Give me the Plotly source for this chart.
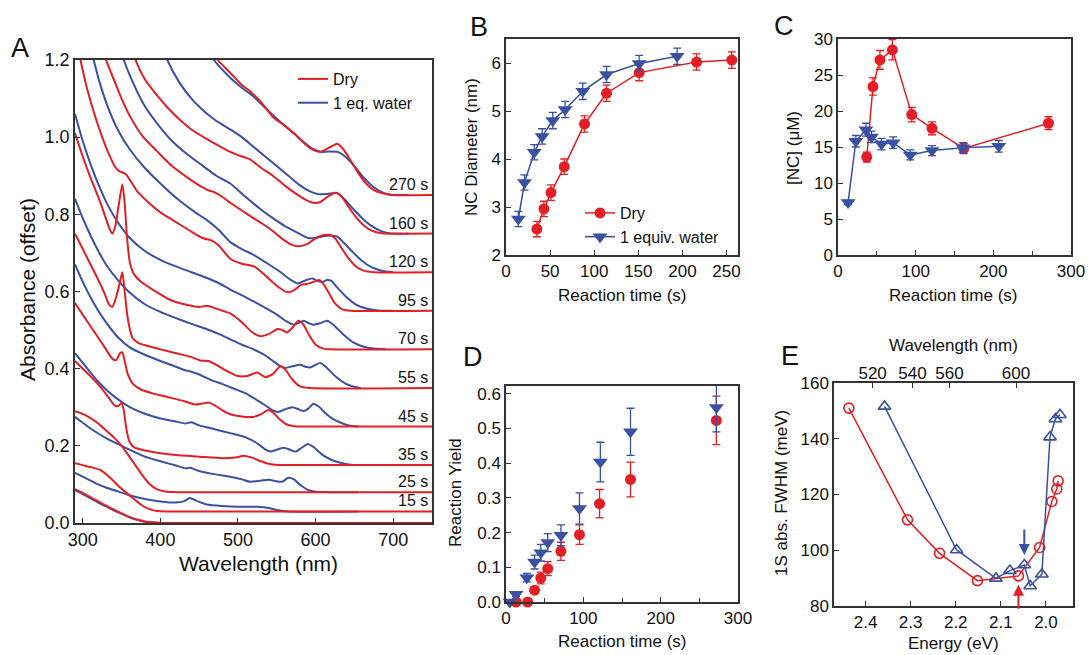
import plotly.graph_objects as go

W, H = 1088, 655
RED = '#e31e24'
BLUE = '#3a50a2'
AX = '#333333'
FONT = 'Liberation Sans, Arial, sans-serif'

# ---------------- Panel A: spectra as (wavelength nm, absorbance + offset) ----------------
DRY_270 = [(455, 1.26), (474, 1.2), (490, 1.167), (505, 1.135), (516, 1.118), (530, 1.09), (546, 1.05),
           (560, 1.03), (572, 1.01), (585, 0.985), (596, 0.968), (606, 0.962), (617, 0.972), (628, 0.983),
           (636, 0.968), (645, 0.94), (654, 0.91), (665, 0.88), (675, 0.863), (684, 0.856), (700, 0.85), (750, 0.85)]
WATER_270 = [(450, 1.26), (469, 1.2), (490, 1.154), (505, 1.128), (520, 1.105), (533, 1.08), (546, 1.055),
             (560, 1.03), (572, 1.01), (585, 0.987), (596, 0.97), (606, 0.962), (617, 0.963), (628, 0.962),
             (638, 0.95), (650, 0.925), (662, 0.895), (675, 0.87), (686, 0.857), (696, 0.851), (720, 0.85)]
DRY_160 = [(352, 1.3), (368, 1.2), (380, 1.15), (395, 1.11), (410, 1.075), (425, 1.045), (440, 1.02),
           (460, 0.995), (475, 0.978), (490, 0.962), (505, 0.95), (515, 0.943), (530, 0.92), (545, 0.9),
           (560, 0.875), (575, 0.853), (588, 0.837), (597, 0.83), (606, 0.832), (617, 0.848), (626, 0.856),
           (634, 0.845), (643, 0.818), (653, 0.79), (663, 0.77), (673, 0.757), (685, 0.751), (750, 0.75)]
WATER_160 = [(392, 1.3), (409, 1.2), (425, 1.14), (440, 1.1), (455, 1.07), (470, 1.045), (490, 1.02),
             (505, 1.0), (520, 0.975), (535, 0.95), (550, 0.925), (565, 0.9), (580, 0.875), (592, 0.86),
             (604, 0.852), (615, 0.853), (627, 0.855), (637, 0.84), (648, 0.815), (660, 0.79), (672, 0.77),
             (684, 0.757), (695, 0.751), (720, 0.75)]
DRY_120 = [(315, 1.3), (330, 1.2), (340, 1.15), (350, 1.1), (362, 1.05), (378, 1.0), (395, 0.965),
           (415, 0.925), (435, 0.895), (450, 0.875), (462, 0.862), (470, 0.857), (480, 0.845), (490, 0.83),
           (505, 0.81), (520, 0.79), (532, 0.775), (546, 0.755), (558, 0.735), (568, 0.722), (577, 0.717),
           (588, 0.722), (598, 0.735), (608, 0.745), (617, 0.747), (625, 0.738), (633, 0.714), (642, 0.687),
           (652, 0.665), (662, 0.654), (675, 0.65), (750, 0.65)]
WATER_120 = [(340, 1.3), (353, 1.2), (365, 1.14), (380, 1.08), (398, 1.03), (415, 0.99), (435, 0.955),
             (455, 0.925), (472, 0.9), (490, 0.88), (510, 0.845), (530, 0.812), (545, 0.79), (560, 0.77),
             (577, 0.752), (591, 0.738), (600, 0.739), (610, 0.743), (620, 0.745), (628, 0.742), (636, 0.727),
             (648, 0.702), (660, 0.679), (672, 0.663), (685, 0.654), (700, 0.65)]
DRY_95 = [(280, 1.35), (297, 1.2), (305, 1.13), (315, 1.06), (325, 1.0), (335, 0.95), (342, 0.922),
          (347, 0.912), (355, 0.905), (362, 0.885), (370, 0.86), (385, 0.83), (400, 0.805), (420, 0.78),
          (440, 0.755), (455, 0.738), (465, 0.733), (475, 0.72), (490, 0.685), (505, 0.672), (515, 0.668),
          (522, 0.664), (535, 0.642), (550, 0.615), (564, 0.598), (572, 0.603), (581, 0.617), (592, 0.621),
          (600, 0.627), (605, 0.63), (610, 0.62), (617, 0.597), (625, 0.569), (635, 0.553), (645, 0.55), (750, 0.55)]
WATER_95 = [(300, 1.3), (314, 1.2), (322, 1.14), (332, 1.08), (345, 1.02), (360, 0.97), (380, 0.92),
            (400, 0.88), (425, 0.835), (445, 0.805), (460, 0.785), (475, 0.76), (490, 0.728), (505, 0.71),
            (520, 0.695), (540, 0.67), (555, 0.65), (568, 0.63), (577, 0.621), (586, 0.628), (596, 0.634),
            (603, 0.627), (609, 0.625), (615, 0.63), (620, 0.628), (628, 0.61), (640, 0.585), (652, 0.566),
            (665, 0.556), (680, 0.551), (700, 0.55)]
DRY_70 = [(290, 1.01), (300, 0.95), (310, 0.895), (320, 0.845), (328, 0.8), (334, 0.765), (338, 0.75),
          (342, 0.77), (346, 0.82), (351, 0.877), (354, 0.83), (357, 0.74), (361, 0.672), (366, 0.645),
          (375, 0.625), (390, 0.605), (413, 0.578), (435, 0.565), (450, 0.56), (460, 0.563), (470, 0.557),
          (480, 0.55), (490, 0.543), (505, 0.52), (518, 0.495), (529, 0.484), (540, 0.49), (551, 0.503),
          (557, 0.5), (563, 0.494), (570, 0.506), (578, 0.524), (584, 0.515), (592, 0.486), (600, 0.462),
          (610, 0.452), (620, 0.45), (750, 0.45)]
WATER_70 = [(290, 1.06), (300, 0.99), (310, 0.93), (320, 0.878), (330, 0.833), (345, 0.78), (360, 0.74),
            (380, 0.705), (400, 0.682), (420, 0.665), (440, 0.65), (460, 0.635), (475, 0.622), (490, 0.605),
            (510, 0.585), (533, 0.56), (550, 0.54), (562, 0.523), (572, 0.514), (580, 0.52), (585, 0.524),
            (591, 0.518), (597, 0.514), (606, 0.518), (615, 0.524), (622, 0.515), (635, 0.49), (648, 0.469),
            (662, 0.457), (675, 0.452), (690, 0.45)]
DRY_55 = [(290, 0.75), (300, 0.71), (310, 0.67), (320, 0.63), (328, 0.595), (334, 0.566), (338, 0.56),
          (343, 0.585), (348, 0.625), (351, 0.65), (354, 0.6), (358, 0.53), (364, 0.48), (372, 0.466),
          (385, 0.458), (400, 0.45), (420, 0.44), (440, 0.43), (452, 0.421), (462, 0.42), (472, 0.41),
          (485, 0.395), (500, 0.381), (512, 0.381), (525, 0.39), (535, 0.378), (545, 0.386), (555, 0.407),
          (562, 0.395), (570, 0.372), (580, 0.354), (592, 0.35), (750, 0.35)]
WATER_55 = [(290, 0.84), (300, 0.79), (310, 0.745), (320, 0.705), (330, 0.67), (345, 0.63), (360, 0.598),
            (380, 0.567), (400, 0.547), (420, 0.531), (440, 0.516), (460, 0.502), (475, 0.49), (490, 0.476),
            (505, 0.462), (520, 0.45), (533, 0.437), (545, 0.42), (555, 0.406), (561, 0.402), (570, 0.406),
            (580, 0.41), (587, 0.405), (593, 0.403), (600, 0.41), (606, 0.415), (613, 0.405), (625, 0.381),
            (638, 0.362), (648, 0.354), (658, 0.35)]
DRY_45 = [(290, 0.57), (300, 0.54), (310, 0.51), (320, 0.48), (330, 0.45), (338, 0.426), (343, 0.422),
          (348, 0.44), (351, 0.442), (354, 0.42), (358, 0.386), (365, 0.36), (375, 0.346), (390, 0.336),
          (410, 0.326), (430, 0.316), (445, 0.307), (455, 0.31), (462, 0.312), (470, 0.305), (480, 0.292),
          (490, 0.282), (505, 0.276), (520, 0.275), (530, 0.282), (539, 0.293), (546, 0.285), (554, 0.268),
          (562, 0.256), (572, 0.251), (585, 0.25), (750, 0.25)]
WATER_45 = [(290, 0.67), (300, 0.625), (310, 0.585), (320, 0.55), (330, 0.52), (345, 0.482), (360, 0.456),
            (380, 0.436), (400, 0.42), (420, 0.405), (432, 0.396), (440, 0.392), (450, 0.385), (465, 0.371),
            (480, 0.36), (495, 0.348), (510, 0.336), (525, 0.318), (538, 0.301), (545, 0.292), (552, 0.288),
            (560, 0.294), (570, 0.3), (578, 0.295), (585, 0.29), (591, 0.297), (597, 0.309), (604, 0.302),
            (612, 0.286), (622, 0.27), (635, 0.258), (645, 0.252), (655, 0.25)]
DRY_35 = [(290, 0.42), (300, 0.4), (310, 0.38), (323, 0.352), (333, 0.326), (341, 0.305), (346, 0.303),
          (350, 0.312), (353, 0.29), (356, 0.246), (360, 0.212), (366, 0.196), (380, 0.188), (400, 0.181),
          (420, 0.176), (450, 0.172), (480, 0.168), (497, 0.17), (507, 0.174), (517, 0.17), (527, 0.162),
          (537, 0.155), (548, 0.151), (560, 0.15), (750, 0.15)]
WATER_35 = [(290, 0.44), (300, 0.415), (310, 0.39), (320, 0.366), (330, 0.346), (345, 0.321), (360, 0.301),
            (380, 0.283), (400, 0.271), (420, 0.263), (432, 0.258), (440, 0.261), (450, 0.253), (470, 0.243),
            (490, 0.233), (510, 0.222), (525, 0.206), (535, 0.191), (542, 0.185), (550, 0.19), (559, 0.195),
            (567, 0.19), (574, 0.185), (582, 0.195), (590, 0.205), (598, 0.196), (608, 0.178), (620, 0.164),
            (632, 0.156), (645, 0.151), (655, 0.15)]
DRY_25 = [(290, 0.29), (300, 0.283), (310, 0.272), (320, 0.258), (330, 0.24), (340, 0.222), (350, 0.2),
          (358, 0.178), (366, 0.155), (376, 0.126), (386, 0.101), (396, 0.087), (408, 0.081), (420, 0.08), (750, 0.08)]
WATER_25 = [(290, 0.275), (300, 0.26), (310, 0.245), (320, 0.232), (330, 0.22), (345, 0.205), (360, 0.19),
            (380, 0.172), (400, 0.16), (420, 0.149), (432, 0.142), (439, 0.143), (448, 0.136), (465, 0.128),
            (490, 0.12), (505, 0.113), (516, 0.107), (530, 0.11), (540, 0.112), (550, 0.108), (557, 0.107),
            (565, 0.117), (572, 0.113), (580, 0.099), (590, 0.086), (600, 0.081), (615, 0.08), (655, 0.08)]
DRY_15 = [(290, 0.155), (300, 0.15), (310, 0.145), (323, 0.137), (335, 0.118), (345, 0.098), (355, 0.08),
          (366, 0.062), (376, 0.046), (386, 0.036), (396, 0.031), (410, 0.03), (750, 0.03)]
WATER_15 = [(290, 0.13), (300, 0.12), (310, 0.11), (320, 0.1), (330, 0.092), (345, 0.082), (360, 0.072),
            (380, 0.062), (400, 0.056), (420, 0.053), (430, 0.056), (438, 0.065), (446, 0.058), (460, 0.048),
            (480, 0.044), (500, 0.042), (525, 0.042), (540, 0.039), (552, 0.033), (565, 0.03), (655, 0.03)]
DRY_0 = [(290, 0.088), (300, 0.078), (310, 0.067), (320, 0.056), (330, 0.045), (340, 0.035), (350, 0.025),
         (360, 0.016), (370, 0.009), (380, 0.004), (392, 0.001), (402, 0.0), (420, 0.0), (750, 0.0)]
WATER_0 = [(290, 0.085), (300, 0.075), (310, 0.064), (320, 0.053), (330, 0.043), (340, 0.033), (350, 0.024),
           (360, 0.015), (370, 0.008), (380, 0.003), (392, 0.001), (402, 0.0), (420, 0.0), (655, 0.0)]

DRY_SPECTRA = [DRY_270, DRY_160, DRY_120, DRY_95, DRY_70, DRY_55, DRY_45, DRY_35, DRY_25, DRY_15, DRY_0]
WATER_SPECTRA = [WATER_270, WATER_160, WATER_120, WATER_95, WATER_70, WATER_55, WATER_45, WATER_35,
                 WATER_25, WATER_15, WATER_0]
SPEC_LABELS = ['270 s', '160 s', '120 s', '95 s', '70 s', '55 s', '45 s', '35 s', '25 s', '15 s']
SPEC_OFFSETS = [0.85, 0.75, 0.65, 0.55, 0.45, 0.35, 0.25, 0.15, 0.08, 0.03]

# ---------------- Panel B: NC diameter ----------------
B_DRY_T = [35, 43, 51, 66, 89, 114, 151, 216, 256]
B_DRY_D = [2.54, 2.96, 3.30, 3.84, 4.73, 5.37, 5.80, 6.02, 6.06]
B_DRY_E = [0.16, 0.16, 0.16, 0.16, 0.17, 0.17, 0.17, 0.17, 0.17]
B_WAT_T = [14, 21, 32, 41, 53, 67, 87, 114, 151, 194]
B_WAT_D = [2.75, 3.51, 4.14, 4.47, 4.80, 5.03, 5.41, 5.76, 5.99, 6.14]
B_WAT_E = [0.16, 0.16, 0.16, 0.16, 0.17, 0.17, 0.17, 0.17, 0.17, 0.17]

# ---------------- Panel C: [NC] ----------------
C_DRY_T = [37, 45, 54, 70, 95, 121, 162, 271]
C_DRY_C = [13.6, 23.4, 27.1, 28.5, 19.5, 17.6, 14.8, 18.3]
C_DRY_E = [0.7, 1.2, 1.3, 1.4, 1.0, 0.9, 0.7, 0.9]
C_WAT_T = [13, 23, 36, 43, 56, 71, 93, 121, 161, 207]
C_WAT_C = [7.3, 15.8, 17.4, 16.4, 15.4, 15.6, 13.9, 14.5, 14.9, 15.1]
C_WAT_E = [0.3, 0.8, 0.9, 0.8, 0.8, 0.8, 0.7, 0.7, 0.7, 0.8]

# ---------------- Panel D: reaction yield ----------------
D_DRY_T = [13, 28, 37, 45, 54, 71, 95, 121, 161, 272]
D_DRY_Y = [0.0, 0.0, 0.034, 0.069, 0.096, 0.146, 0.194, 0.283, 0.353, 0.523]
D_DRY_E = [0.003, 0.003, 0.008, 0.017, 0.02, 0.026, 0.028, 0.041, 0.05, 0.07]
D_WAT_T = [5, 13, 27, 37, 45, 54, 71, 95, 122, 161, 272]
D_WAT_Y = [0.0, 0.022, 0.07, 0.115, 0.142, 0.171, 0.192, 0.269, 0.403, 0.49, 0.56]
D_WAT_E = [0.003, 0.006, 0.012, 0.02, 0.024, 0.026, 0.03, 0.045, 0.057, 0.068, 0.07]

# ---------------- Panel E: FWHM vs energy ----------------
E_DRY_EV = [2.437, 2.307, 2.236, 2.152, 2.061, 2.014, 1.987, 1.976, 1.973]
E_DRY_FW = [151.0, 110.9, 98.9, 89.1, 90.8, 101.0, 117.5, 122.0, 124.9]
E_WAT_EV = [2.358, 2.198, 2.111, 2.080, 2.048, 2.035, 2.009, 1.991, 1.979, 1.969]
E_WAT_FW = [151.6, 100.1, 89.9, 92.7, 94.7, 87.2, 91.4, 140.6, 147.1, 148.6]
E_WL_TICKS = [520, 540, 560, 600]
HC = 1239.84  # eV*nm


def px(x):
    return x / W


def py(y):
    return 1 - y / H


fig = go.Figure()

# Panel A traces (water drawn first, dry on top)
for i, spec in enumerate(WATER_SPECTRA):
    fig.add_trace(go.Scatter(x=[p[0] for p in spec], y=[p[1] for p in spec], mode='lines',
                             line=dict(color=BLUE, width=2, shape='spline', smoothing=0.6),
                             name='1 eq. water', legend='legend', legendrank=2,
                             showlegend=(i == 0), xaxis='x', yaxis='y', hoverinfo='skip'))
for i, spec in enumerate(DRY_SPECTRA):
    fig.add_trace(go.Scatter(x=[p[0] for p in spec], y=[p[1] for p in spec], mode='lines',
                             line=dict(color=RED, width=2, shape='spline', smoothing=0.6),
                             name='Dry', legend='legend', legendrank=1,
                             showlegend=(i == 0), xaxis='x', yaxis='y', hoverinfo='skip'))

# Panel B
fig.add_trace(go.Scatter(x=B_DRY_T, y=B_DRY_D, mode='lines+markers', name='Dry',
                         line=dict(color=RED, width=1.5), marker=dict(symbol='circle', size=11, color=RED),
                         error_y=dict(type='data', array=B_DRY_E, color=RED, thickness=1.3, width=4),
                         legend='legend2', legendrank=1, xaxis='x2', yaxis='y2'))
fig.add_trace(go.Scatter(x=B_WAT_T, y=B_WAT_D, mode='lines+markers', name='1 equiv. water',
                         line=dict(color=BLUE, width=1.5), marker=dict(symbol='triangle-down', size=13, color=BLUE),
                         error_y=dict(type='data', array=B_WAT_E, color=BLUE, thickness=1.3, width=4),
                         legend='legend2', legendrank=2, xaxis='x2', yaxis='y2'))

# Panel C
fig.add_trace(go.Scatter(x=C_DRY_T, y=C_DRY_C, mode='lines+markers', showlegend=False,
                         line=dict(color=RED, width=1.5), marker=dict(symbol='circle', size=11, color=RED),
                         error_y=dict(type='data', array=C_DRY_E, color=RED, thickness=1.3, width=4),
                         xaxis='x3', yaxis='y3'))
fig.add_trace(go.Scatter(x=C_WAT_T, y=C_WAT_C, mode='lines+markers', showlegend=False,
                         line=dict(color=BLUE, width=1.5), marker=dict(symbol='triangle-down', size=13, color=BLUE),
                         error_y=dict(type='data', array=C_WAT_E, color=BLUE, thickness=1.3, width=4),
                         xaxis='x3', yaxis='y3'))

# Panel D
fig.add_trace(go.Scatter(x=D_DRY_T, y=D_DRY_Y, mode='markers', showlegend=False,
                         marker=dict(symbol='circle', size=11, color=RED),
                         error_y=dict(type='data', array=D_DRY_E, color=RED, thickness=1.3, width=4),
                         xaxis='x4', yaxis='y4', cliponaxis=False))
fig.add_trace(go.Scatter(x=D_WAT_T, y=D_WAT_Y, mode='markers', showlegend=False,
                         marker=dict(symbol='triangle-down', size=13, color=BLUE),
                         error_y=dict(type='data', array=D_WAT_E, color=BLUE, thickness=1.3, width=4),
                         xaxis='x4', yaxis='y4', cliponaxis=False))

# Panel E
fig.add_trace(go.Scatter(x=E_DRY_EV, y=E_DRY_FW, mode='lines+markers', showlegend=False,
                         line=dict(color=RED, width=1.5),
                         marker=dict(symbol='circle-open', size=10, color=RED, line=dict(width=1.6)),
                         xaxis='x5', yaxis='y5'))
fig.add_trace(go.Scatter(x=E_WAT_EV, y=E_WAT_FW, mode='lines+markers', showlegend=False,
                         line=dict(color=BLUE, width=1.5),
                         marker=dict(symbol='triangle-up-open', size=11, color=BLUE, line=dict(width=1.6)),
                         xaxis='x5', yaxis='y5'))
fig.add_trace(go.Scatter(x=[2.2], y=[None], mode='markers', showlegend=False, xaxis='x6', yaxis='y5',
                         hoverinfo='skip'))

axis_common = dict(showline=True, linecolor=AX, linewidth=1.5, mirror=True, ticks='inside',
                   ticklen=5, tickwidth=1.3, tickcolor=AX, showgrid=False, zeroline=False,
                   automargin=False,
                   tickfont=dict(size=17, color='#111', family=FONT))

A_X0, A_X1, A_Y0, A_Y1 = 75, 432, 60, 523
B_X0, B_X1, B_Y0, B_Y1 = 506, 738, 39, 255
C_X0, C_X1 = 838, 1071
D_Y0, D_Y1 = 386, 602
E_X0, E_X1, E_Y0, E_Y1 = 834, 1073, 383, 606

layout = dict(
    width=W, height=H, margin=dict(l=0, r=0, t=0, b=0, pad=0, autoexpand=False),
    paper_bgcolor='white', plot_bgcolor='white',
    font=dict(family=FONT, color='#111'),
    xaxis=dict(axis_common, domain=[px(A_X0), px(A_X1)], anchor='y', range=[290, 750],
               tickvals=[300, 400, 500, 600, 700], tickfont=dict(size=18, family=FONT, color='#111')),
    yaxis=dict(axis_common, domain=[py(A_Y1), py(A_Y0)], anchor='x', range=[0, 1.2],
               dtick=0.2, tickformat='.1f', tickfont=dict(size=18, family=FONT, color='#111')),
    xaxis2=dict(axis_common, domain=[px(B_X0), px(B_X1)], anchor='y2', range=[0, 263], dtick=50),
    yaxis2=dict(axis_common, domain=[py(B_Y1), py(B_Y0)], anchor='x2', range=[2, 6.5], dtick=1),
    xaxis3=dict(axis_common, domain=[px(C_X0), px(C_X1)], anchor='y3', range=[0, 300], dtick=100,
                minor=dict(dtick=50, ticks='inside', ticklen=4, tickcolor=AX)),
    yaxis3=dict(axis_common, domain=[py(B_Y1), py(B_Y0)], anchor='x3', range=[0, 30], dtick=5),
    xaxis4=dict(axis_common, domain=[px(B_X0), px(B_X1)], anchor='y4', range=[0, 300], dtick=100,
                minor=dict(dtick=50, ticks='inside', ticklen=4, tickcolor=AX)),
    yaxis4=dict(axis_common, domain=[py(D_Y1), py(D_Y0)], anchor='x4', range=[0, 0.622], dtick=0.1,
                tickformat='.1f'),
    xaxis5=dict(axis_common, domain=[px(E_X0), px(E_X1)], anchor='y5', range=[2.47, 1.94], dtick=0.1,
                tickformat='.1f'),
    yaxis5=dict(axis_common, domain=[py(E_Y1), py(E_Y0)], anchor='x5', range=[80, 160], dtick=20),
    xaxis6=dict(axis_common, overlaying='x5', side='top', anchor='y5', range=[2.47, 1.94],
                tickvals=[HC / w for w in E_WL_TICKS], ticktext=[str(w) for w in E_WL_TICKS],
                showline=False, mirror=False),
    legend=dict(x=px(293), y=py(62), xanchor='left', yanchor='top', bgcolor='rgba(0,0,0,0)',
                font=dict(size=16, family=FONT, color='#111'), tracegroupgap=0, itemwidth=30,
                traceorder='normal'),
    legend2=dict(x=px(580), y=py(196), xanchor='left', yanchor='top', bgcolor='rgba(0,0,0,0)',
                 font=dict(size=16, family=FONT, color='#111'), tracegroupgap=0, itemwidth=30,
                 traceorder='normal'),
    showlegend=True,
)
fig.update_layout(layout)

ann = []


def text(x, y, s, size=17, angle=0, xanchor='center', yanchor='middle'):
    ann.append(dict(x=px(x), y=py(y), xref='paper', yref='paper', text=s, showarrow=False,
                    font=dict(size=size, family=FONT, color='#111'), textangle=angle,
                    xanchor=xanchor, yanchor=yanchor))


# Panel letters
text(20, 48, 'A', size=27)
text(479, 27, 'B', size=27)
text(784, 26, 'C', size=27)
text(473, 357, 'D', size=27)
text(790, 356, 'E', size=27)

# Axis titles
text(27, 290, 'Absorbance (offset)', size=21, angle=-90)
text(258, 563, 'Wavelength (nm)', size=21)
text(472, 147, 'NC Diameter (nm)', size=17, angle=-90)
text(622, 295, 'Reaction time (s)', size=17)
text(793, 148, '[NC] (μM)', size=17, angle=-90)
text(953, 295, 'Reaction time (s)', size=17)
text(455, 493, 'Reaction Yield', size=17, angle=-90)
text(622, 641, 'Reaction time (s)', size=17)
text(781, 493, '1S abs. FWHM (meV)', size=17, angle=-90)
text(953, 643, 'Energy (eV)', size=17)
text(953, 345, 'Wavelength (nm)', size=17)

# Time labels on spectra
for lab, off in zip(SPEC_LABELS, SPEC_OFFSETS):
    ann.append(dict(x=747, y=off, xref='x', yref='y', text=lab, showarrow=False,
                    font=dict(size=16, family=FONT, color='#111'), xanchor='right', yanchor='bottom',
                    yshift=0))

# Arrows in panel E
ann.append(dict(x=2.048, y=98.3, ax=2.048, ay=108.0, xref='x5', yref='y5', axref='x5', ayref='y5',
                showarrow=True, arrowhead=2, arrowsize=1.1, arrowwidth=2, arrowcolor=BLUE, text=''))
ann.append(dict(x=2.061, y=87.6, ax=2.061, ay=78.5, xref='x5', yref='y5', axref='x5', ayref='y5',
                showarrow=True, arrowhead=2, arrowsize=1.1, arrowwidth=2, arrowcolor=RED, text=''))

fig.update_layout(annotations=ann)
fig.write_html('out.html', config={'displayModeBar': False},
               post_script="document.body.style.margin='0';document.body.style.padding='0';"
                           "document.body.style.overflow='hidden';")
